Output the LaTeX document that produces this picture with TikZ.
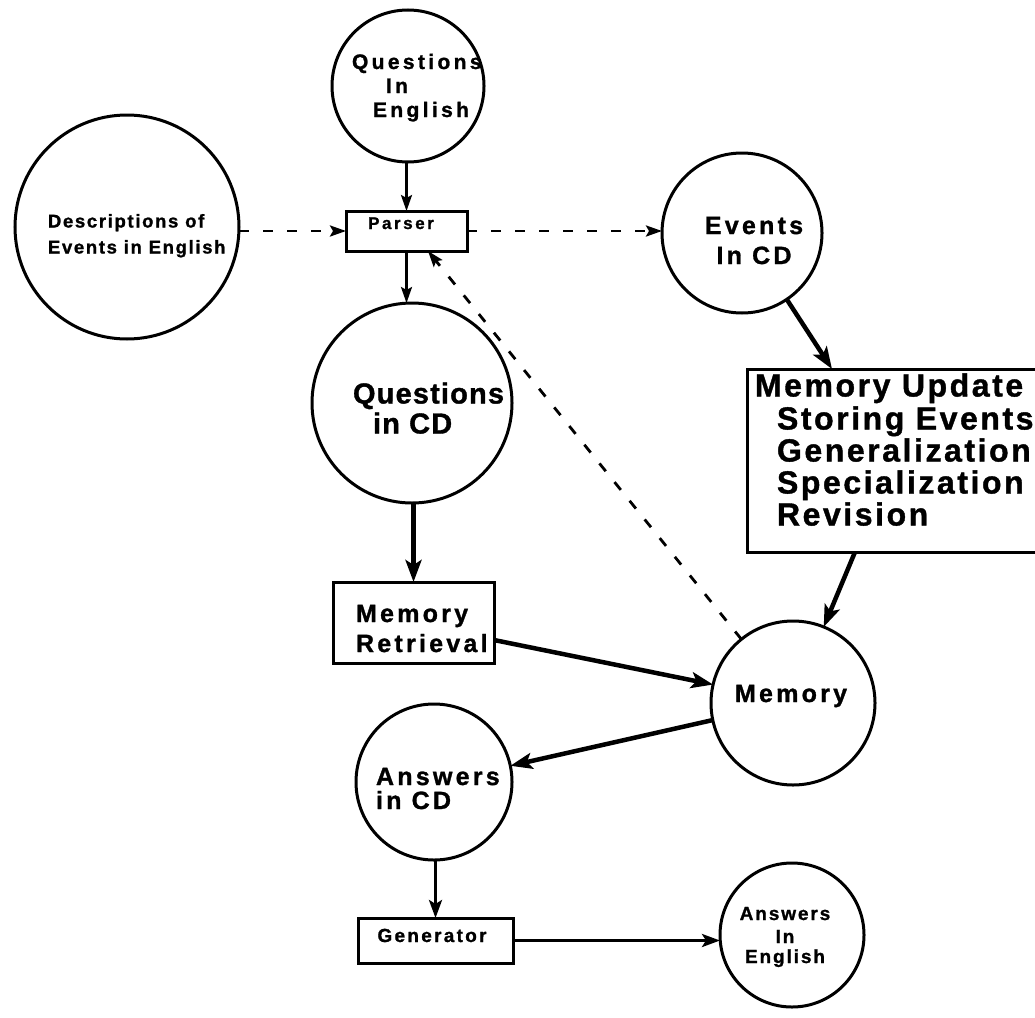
\documentclass[tikz,border=0pt]{standalone}
\usepackage{fontspec}
\setmainfont{Liberation Sans}
\usetikzlibrary{arrows.meta,calc}
% heavy, letter-spaced label font: #1 size, #2 tracking
\newcommand\lblfont[2]{\fontsize{#1}{#1}\selectfont\bfseries\addfontfeatures{LetterSpace=#2,FakeBold=1.2}}
\begin{document}
\begin{tikzpicture}[x=1pt,y=-1pt,
  every node/.style={inner sep=0pt, outer sep=0pt},
  circ/.style={draw, circle, line width=3pt, minimum size=#1},
  box/.style={draw, rectangle, line width=3pt},
  lbl/.style={anchor=base west},
  lblc/.style={anchor=base},
  thinarr/.style={line width=2.5pt, -{Stealth[length=16pt,width=11pt,inset=3pt]}},
  medarr/.style={line width=3.2pt, -{Stealth[length=18pt,width=13pt,inset=4pt]}},
  thickarr/.style={line width=4.5pt, -{Stealth[length=22pt,width=16pt,inset=5pt]}},
  dasharr/.style={line width=2.8pt, dash pattern=on 10pt off 14pt,
    -{Stealth[length=16pt,width=11pt,inset=3pt]}}
]
\useasboundingbox (0,0) rectangle (1035,1017);

% circles and boxes
\node[circ=152pt] (qe) at (408,86) {};
\node[circ=224pt] (desc) at (127,227) {};
\node[box, minimum width=121pt, minimum height=40pt] (parser) at (406.5,231) {};
\node[circ=160pt] (ev) at (742,233) {};
\node[circ=200pt] (qcd) at (412,403) {};
\node[box, minimum width=161pt, minimum height=81pt] (mr) at (413.5,622.5) {};
\node[box, minimum width=298pt, minimum height=183pt] (mu) at (896,460.5) {};
\node[circ=164pt] (mem) at (793,703) {};
\node[circ=156pt] (acd) at (434,782) {};
\node[box, minimum width=155pt, minimum height=45pt] (gen) at (435.5,940.5) {};
\node[circ=144pt] (ae) at (792,935) {};

% labels
\node[lbl, font=\lblfont{21}{16}] (qe1) at (352,69) {Questions};
\node[lbl, font=\lblfont{21}{16}] (qe2) at (386,93) {In};
\node[lbl, font=\lblfont{21}{16}] (qe3) at (373,117) {English};

\node[lbl, font=\lblfont{18.5}{9}] (desc1) at (48,227.5) {Descriptions of};
\node[lbl, font=\lblfont{18.5}{9}] (desc2) at (48,253.5) {Events in English};

\node[lblc, font=\lblfont{17}{15}] (parser1) at (401,229) {Parser};

\node[lblc, font=\lblfont{25}{13}] (ev1) at (754,234) {Events};
\node[lblc, font=\lblfont{25}{13}] (ev2) at (754,264) {In CD};

\node[lbl, font=\lblfont{29}{4}] (qcd1) at (353,403.5) {Questions};
\node[lbl, font=\lblfont{29}{4}] (qcd2) at (373,433.5) {in CD};

\node[lbl, font=\lblfont{25}{13}] (mr1) at (356,622) {Memory};
\node[lbl, font=\lblfont{25}{13}] (mr2) at (356,652) {Retrieval};

\node[lbl, font=\lblfont{32}{8}] (mu1) at (755,396.5) {Memory Update};
\node[lbl, font=\lblfont{32}{8}] (mu2) at (777,429.5) {Storing Events};
\node[lbl, font=\lblfont{32}{8}] (mu3) at (777,461.5) {Generalization};
\node[lbl, font=\lblfont{32}{8}] (mu4) at (777,493.5) {Specialization};
\node[lbl, font=\lblfont{32}{8}] (mu5) at (777,525.5) {Revision};

\node[lblc, font=\lblfont{25}{13}] (mem1) at (791,702) {Memory};

\node[lbl, font=\lblfont{25}{13}] (acd1) at (376,785) {Answers};
\node[lbl, font=\lblfont{25}{13}] (acd2) at (376,809) {in CD};

\node[lblc, font=\lblfont{19}{12}] (gen1) at (432,942) {Generator};

\node[lblc, font=\lblfont{19}{10}] (ae1) at (785,920) {Answers};
\node[lblc, font=\lblfont{19}{10}] (ae2) at (785,943) {In};
\node[lblc, font=\lblfont{19}{10}] (ae3) at (785,963) {English};

% connectors
\draw[thinarr] (qe.south -| parser.north) -- (parser.north);
\draw[thinarr] (parser.south) -- (parser.south |- qcd.north);
\draw[dasharr] (parser.west -| desc.east) -- (parser.west);
\draw[dasharr] (parser.east) -- (parser.east -| ev.west);
\draw[dasharr] (mem.129) -- ($(parser.south)!0.355!(parser.south east)$);
\draw[thickarr] (ev.-56) -- ([xshift=85pt]mu.north west);
\draw[thickarr] ([xshift=108pt]mu.south west) -- (mem.68);
\draw[thickarr] (mr.north |- qcd.south) -- (mr.north);
\draw[thickarr] ([yshift=-17.5pt]mr.east) -- (mem.167);
\draw[thickarr] (mem.192) -- (acd.12);
\draw[medarr] (gen.north |- acd.south) -- (gen.north);
\draw[medarr] (gen.east) -- (gen.east -| ae.west);
\end{tikzpicture}
\end{document}
